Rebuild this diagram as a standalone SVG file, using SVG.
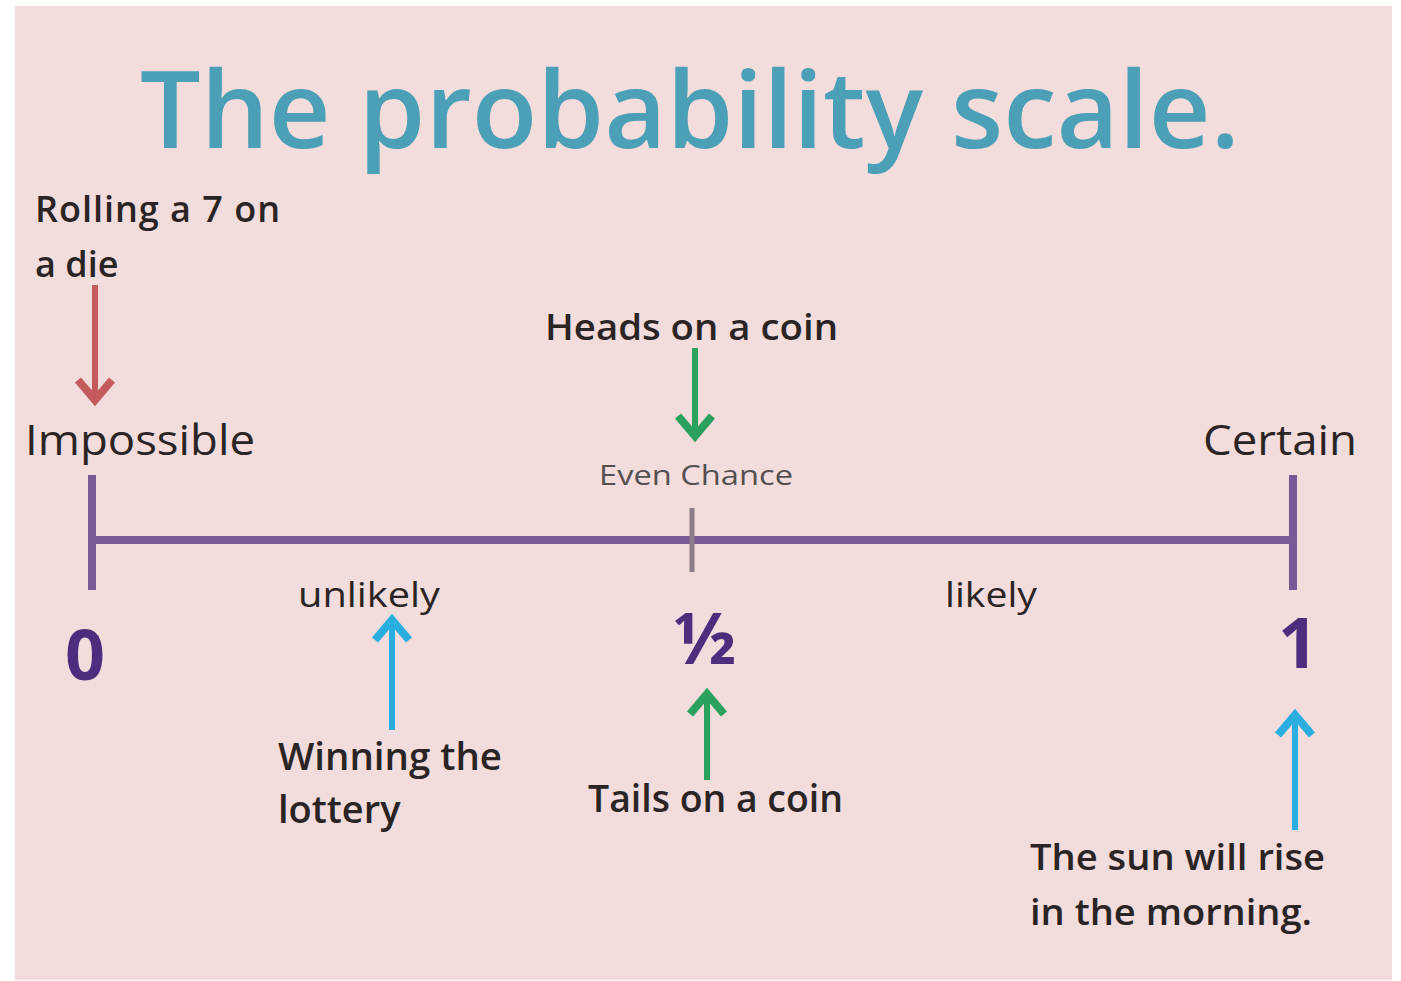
<svg xmlns="http://www.w3.org/2000/svg" width="1401" height="981" viewBox="0 0 1401 981">
<style>
.t{font-family:"Open Sans","Noto Sans","DejaVu Sans",sans-serif;fill:#2a2424}
.b{font-weight:600}
.n{font-family:"Open Sans","Noto Sans",sans-serif;font-weight:700;fill:#4e2c7e}
.sh{stroke-width:6}
.hd{stroke-width:8;stroke-linejoin:miter;stroke-linecap:butt}
</style>
<rect x="0" y="0" width="1401" height="981" fill="#ffffff"/>
<rect x="15" y="6" width="1377" height="974" fill="#f2dcdc"/>
<g id="title">
<text x="140" y="148" font-family="Open Sans,Noto Sans,sans-serif" font-weight="600" font-size="106" fill="#4b9fb6" textLength="1100" lengthAdjust="spacingAndGlyphs">The probability scale.</text>
</g>
<g id="connectors" fill="none" stroke-linecap="butt">
<path d="M92,540 H1293" stroke="#7a5a96" stroke-width="8"/>
<path d="M92,475 V590" stroke="#7a5a96" stroke-width="8"/>
<path d="M1293,475 V590" stroke="#7a5a96" stroke-width="8"/>
<path d="M692,508 V572" stroke="#8c7c8c" stroke-width="5"/>
<g stroke="#c45a5c"><path class="sh" d="M95,285 V398"/><path class="hd" d="M78,380 L95,400 L112,380"/></g>
<g stroke="#2aa25e"><path class="sh" d="M695,348 V434"/><path class="hd" d="M678,416 L695,436 L712,416"/></g>
<g stroke="#2aaee0"><path class="sh" d="M392,730 V622"/><path class="hd" d="M375,640 L392,620 L409,640"/></g>
<g stroke="#2aa25e"><path class="sh" d="M707,780 V696"/><path class="hd" d="M690,714 L707,694 L724,714"/></g>
<g stroke="#2aaee0"><path class="sh" d="M1295,830 V717"/><path class="hd" d="M1278,735 L1295,715 L1312,735"/></g>
</g>
<g id="rolling"><text class="t b" font-size="36"><tspan x="35" y="222" textLength="245">Rolling a 7 on</tspan><tspan x="35" y="277">a die</tspan></text></g>
<g id="impossible"><text class="t" x="25" y="455" font-size="42" textLength="230" lengthAdjust="spacingAndGlyphs">Impossible</text></g>
<g id="certain"><text class="t" x="1203" y="455" font-size="42" textLength="154" lengthAdjust="spacingAndGlyphs">Certain</text></g>
<g id="heads"><text class="t b" x="545" y="340" font-size="36" textLength="293" lengthAdjust="spacingAndGlyphs">Heads on a coin</text></g>
<g id="even"><text x="599" y="485" font-family="Open Sans,Noto Sans,sans-serif" font-size="28" fill="#555050" textLength="194" lengthAdjust="spacingAndGlyphs">Even Chance</text></g>
<g id="unlikely"><text class="t" x="298" y="607" font-size="34" textLength="142" lengthAdjust="spacingAndGlyphs">unlikely</text></g>
<g id="likely"><text class="t" x="945" y="607" font-size="34" textLength="92" lengthAdjust="spacingAndGlyphs">likely</text></g>
<g id="zero"><text class="n" x="85" y="680" font-size="70" text-anchor="middle">0</text></g>
<g id="half"><text class="n" x="705" y="664" font-size="72" text-anchor="middle">½</text></g>
<g id="one"><text class="n" x="1298" y="668" font-size="70" text-anchor="middle">1</text></g>
<g id="lottery"><text class="t b" font-size="38"><tspan x="278" y="770" textLength="224" lengthAdjust="spacingAndGlyphs">Winning the</tspan><tspan x="278" y="823">lottery</tspan></text></g>
<g id="tails"><text class="t b" x="588" y="812" font-size="38" textLength="255" lengthAdjust="spacingAndGlyphs">Tails on a coin</text></g>
<g id="sun"><text class="t b" font-size="36"><tspan x="1030" y="870" textLength="295" lengthAdjust="spacingAndGlyphs">The sun will rise</tspan><tspan x="1030" y="925" textLength="282" lengthAdjust="spacingAndGlyphs">in the morning.</tspan></text></g>
</svg>
